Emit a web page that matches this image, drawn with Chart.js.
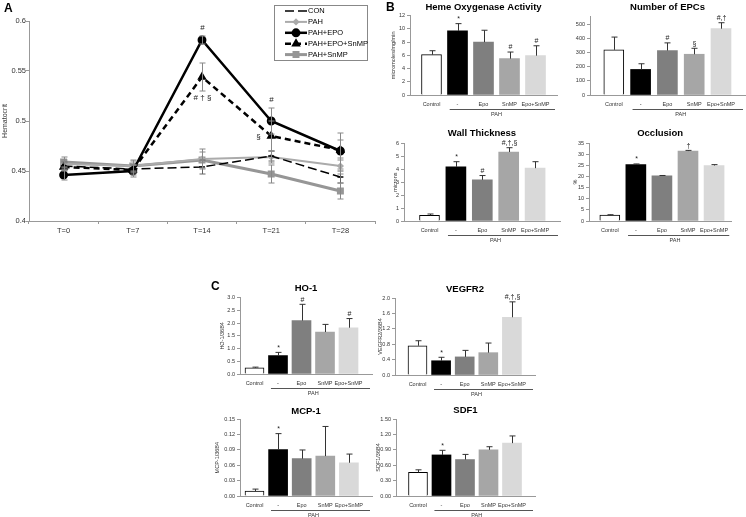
<!DOCTYPE html>
<html>
<head>
<meta charset="utf-8">
<script src="https://cdn.jsdelivr.net/npm/chart.js@4.4.0/dist/chart.umd.min.js"></script>
<style>
body { margin: 0; background: #fff; }
#fig { position: relative; width: 746px; height: 517px; overflow: hidden; font-family: "Liberation Sans", Arial, sans-serif; }
#fig canvas { position: absolute; }
.lbl { position: absolute; font-weight: bold; font-size: 12px; color: #000; }
</style>
</head>
<body>
<div id="fig">
  <canvas id="chartA"></canvas>
  <canvas id="heme"></canvas>
  <canvas id="epc"></canvas>
  <canvas id="wall"></canvas>
  <canvas id="occl"></canvas>
  <canvas id="ho1"></canvas>
  <canvas id="vegf"></canvas>
  <canvas id="mcp"></canvas>
  <canvas id="sdf"></canvas>
  <div class="lbl" style="left:4px;top:1px">A</div>
  <div class="lbl" style="left:386px;top:0px">B</div>
  <div class="lbl" style="left:211px;top:279px">C</div>
</div>
<script>
// ---- panel A: hematocrit over time
var timepoints = ['T=0', 'T=7', 'T=14', 'T=21', 'T=28'];
var con        = [0.455, 0.452, 0.454, 0.465, 0.444];
var conErr     = [0.004, 0.004, 0.007, 0.005, 0.006];
var pah        = [0.457, 0.455, 0.462, 0.464, 0.455];
var pahErr     = [0.004, 0.005, 0.010, 0.006, 0.008];
var pahEpo     = [0.446, 0.450, 0.581, 0.500, 0.470];
var pahEpoErr  = [0.005, 0.006, 0.004, 0.013, 0.018];
var pahEpoMarks = ['', '', '#', '#', ''];
var pahEpoSnmp    = [0.454, 0.451, 0.544, 0.485, 0.471];
var pahEpoSnmpErr = [0.004, 0.005, 0.014, 0.015, 0.010];
var pahEpoSnmpMarks = ['', '', '# \u2020 \u00a7', '\u00a7', ''];
var pahSnmp    = [0.459, 0.455, 0.461, 0.447, 0.430];
var pahSnmpErr = [0.005, 0.006, 0.008, 0.009, 0.008];

// ---- panels B and C: group bars
var groups = ['Control', '-', 'Epo', 'SnMP', 'Epo+SnMP'];
var groupLabel = 'PAH';

var hoActivity      = [6.1, 9.7, 8.0, 5.5, 5.95];
var hoActivityErr   = [0.6, 1.1, 1.8, 1.0, 1.5];
var hoActivityMarks = ['', '*', '', '#', '#'];

var epcCount      = [318, 180, 313, 287, 467];
var epcErr        = [90, 40, 54, 42, 42];
var epcMarks      = ['', '', '#', '\u00a7', '#,\u2020'];

var wallThick      = [0.44, 4.18, 3.18, 5.33, 4.08];
var wallErr        = [0.1, 0.4, 0.33, 0.33, 0.5];
var wallMarks      = ['', '*', '#', '#,\u2020,\u00a7', ''];

var occlusion      = [2.7, 25.4, 20.3, 31.5, 25.0];
var occlusionErr   = [0.15, 0.3, 0.2, 0.3, 0.4];
var occlusionMarks = ['', '*', '', '\u2020', ''];

var ho1      = [0.24, 0.72, 2.1, 1.65, 1.82];
var ho1Err   = [0.03, 0.13, 0.64, 0.3, 0.36];
var ho1Marks = ['', '*', '#', '', '#'];

var vegfr2      = [0.76, 0.37, 0.47, 0.58, 1.5];
var vegfr2Err   = [0.13, 0.09, 0.17, 0.25, 0.4];
var vegfr2Marks = ['', '*', '', '', '#,\u2020,\u00a7'];

var mcp1      = [0.0095, 0.091, 0.073, 0.078, 0.065];
var mcp1Err   = [0.004, 0.031, 0.017, 0.058, 0.017];
var mcp1Marks = ['', '*', '', '', ''];

var sdf1      = [0.46, 0.8, 0.71, 0.9, 1.03];
var sdf1Err   = [0.05, 0.09, 0.1, 0.06, 0.14];
var sdf1Marks = ['', '*', '', '', ''];

var FAM = '"Liberation Sans", Arial, sans-serif';
Chart.defaults.font.family = FAM;
Chart.defaults.color = '#333';

var barColors = ['#ffffff', '#000000', '#7f7f7f', '#a6a6a6', '#d9d9d9'];

// error bars + significance marks
var errorBars = {
  id: 'errorBars',
  afterDatasetsDraw: function(chart) {
    var ctx = chart.ctx, ys = chart.scales.y;
    chart.data.datasets.forEach(function(ds, di) {
      if (!ds.errors) return;
      var meta = chart.getDatasetMeta(di);
      ctx.save();
      ctx.strokeStyle = ds.errorColor || '#333';
      ctx.lineWidth = 1;
      meta.data.forEach(function(el, i) {
        var raw = ds.data[i];
        var v = (typeof raw === 'object') ? raw.y : raw;
        var e = ds.errors[i];
        var x = Math.round(el.x) + 0.5;
        var yTop = ys.getPixelForValue(v + e);
        var yBot = ds.errBoth ? ys.getPixelForValue(v - e) : ys.getPixelForValue(v);
        var cap = ds.capWidth || 3;
        ctx.beginPath();
        ctx.moveTo(x, yTop); ctx.lineTo(x, yBot);
        ctx.moveTo(x - cap, yTop); ctx.lineTo(x + cap, yTop);
        if (ds.errBoth) { ctx.moveTo(x - cap, yBot); ctx.lineTo(x + cap, yBot); }
        ctx.stroke();
        var m = ds.marks && ds.marks[i];
        if (m) {
          var pos = (ds.markPos && ds.markPos[i]) || 'above';
          ctx.fillStyle = '#222';
          ctx.font = ds.markFont || ('7px ' + FAM);
          ctx.textAlign = 'center';
          if (pos === 'above') {
            ctx.textBaseline = 'bottom';
            ctx.fillText(m, x, yTop - (ds.markGap || 1));
          } else if (pos === 'below') {
            ctx.textBaseline = 'top';
            ctx.fillText(m, x, yBot + 3);
          } else {
            ctx.textBaseline = 'middle';
            ctx.fillText(m, x - 13, ys.getPixelForValue(v) + 1);
          }
        }
      });
      ctx.restore();
    });
  }
};

// PAH bracket under the four treated groups
var pahBracket = {
  id: 'pahBracket',
  afterDraw: function(chart) {
    var xs = chart.scales.x, ctx = chart.ctx, b = chart.chartArea.bottom;
    var x1 = xs.getPixelForValue(0.7), x2 = chart.chartArea.right - 2;
    var yl = Math.round(b + 13.5) + 0.5;
    ctx.save();
    ctx.strokeStyle = '#555'; ctx.lineWidth = 1;
    ctx.beginPath(); ctx.moveTo(x1, yl); ctx.lineTo(x2, yl); ctx.stroke();
    ctx.fillStyle = '#333'; ctx.font = '5.5px ' + FAM;
    ctx.textAlign = 'center'; ctx.textBaseline = 'middle';
    ctx.fillText(groupLabel, xs.getPixelForValue(2.5), b + 19);
    ctx.restore();
  }
};

function stepFilter(step) {
  return function(s) {
    s.ticks = s.ticks.filter(function(t) {
      var r = t.value / step;
      return Math.abs(r - Math.round(r)) < 1e-6;
    });
  };
}

function barPanel(id, vals, errs, marks, g) {
  var W = 36, H = 30;
  var lh = g.ts * 1.2;
  var cTop = Math.floor(g.ty - lh / 2 - 2);
  var cLeft = Math.round(g.ax) - W;
  var cv = document.getElementById(id);
  var cw = Math.ceil(g.ar - cLeft) + 3;
  cv.width = cw;
  cv.height = Math.round(g.bottom + H - cTop);
  cv.style.left = cLeft + 'px';
  cv.style.top = cTop + 'px';
  var xmin = (Math.round(g.ax) - g.c0) / g.sp, xmax = (g.ar - g.c0) / g.sp;
  new Chart(cv, {
    type: 'bar',
    data: {
      datasets: [{
        data: vals.map(function(v, i) { return {x: i, y: v}; }),
        errors: errs,
        marks: marks,
        markFont: '7px ' + FAM,
        markGap: 1,
        capWidth: 3,
        backgroundColor: barColors,
        borderColor: '#000',
        borderWidth: [1, 0, 0, 0, 0],
        barThickness: g.bw
      }]
    },
    options: {
      responsive: false,
      animation: false,
      layout: { padding: { right: cw - (g.ar - cLeft) } },
      plugins: {
        legend: { display: false },
        tooltip: { enabled: false },
        title: {
          display: true, text: g.title, fullSize: false, color: '#000',
          font: { size: g.ts, weight: 'bold', lineHeight: 1.2 },
          padding: { top: g.ty - lh / 2 - cTop, bottom: g.top - g.ty - lh / 2 }
        }
      },
      scales: {
        x: {
          type: 'linear', min: xmin, max: xmax, offset: false,
          afterBuildTicks: function(s) { s.ticks = groups.map(function(_, i) { return {value: i}; }); },
          afterFit: function(s) { s.height = H; },
          ticks: {
            callback: function(v) { return groups[v]; },
            font: { size: 5.5 }, color: '#333', padding: 6.5, maxRotation: 0, autoSkip: false
          },
          grid: { display: true, drawOnChartArea: false, drawTicks: false },
          border: { color: '#999' }
        },
        y: {
          min: 0, max: g.max,
          afterFit: function(s) { s.width = W; },
          afterBuildTicks: stepFilter(g.step),
          ticks: {
            stepSize: g.step,
            callback: function(v) { return v.toFixed(g.dec); },
            font: { size: 5.5 }, color: '#333', padding: 2
          },
          grid: { drawOnChartArea: false, tickLength: 3, color: '#999' },
          border: { color: '#999' },
          title: {
            display: !!g.yt, text: g.yt || '', color: '#333',
            font: { size: 5.5, lineHeight: 1.2 },
            padding: { top: (g.ytx || 0) - cLeft - 3.3, bottom: 0 }
          }
        }
      }
    },
    plugins: [errorBars, pahBracket]
  });
}

barPanel('heme', hoActivity, hoActivityErr, hoActivityMarks,
  { title: 'Heme Oxygenase Activity', ts: 9.5, ty: 7.5, ax: 410, ar: 557, top: 15.7, bottom: 94.7,
    max: 12, step: 2, dec: 0, c0: 431.5, sp: 26, bw: 20, yt: 'micromoles/mg/min', ytx: 393 });
barPanel('epc', epcCount, epcErr, epcMarks,
  { title: 'Number of EPCs', ts: 9.5, ty: 7.3, ax: 590, ar: 745, top: 16.9, bottom: 95.3,
    max: 550, step: 100, dec: 0, c0: 613.8, sp: 26.8, bw: 20 });
barPanel('wall', wallThick, wallErr, wallMarks,
  { title: 'Wall Thickness', ts: 9.5, ty: 133, ax: 404, ar: 560, top: 143.3, bottom: 221.3,
    max: 6, step: 1, dec: 0, c0: 429.5, sp: 26.4, bw: 20, yt: 'microns', ytx: 395 });
barPanel('occl', occlusion, occlusionErr, occlusionMarks,
  { title: 'Occlusion', ts: 9.5, ty: 133.3, ax: 589, ar: 732, top: 143.3, bottom: 221.3,
    max: 35, step: 5, dec: 0, c0: 609.9, sp: 26.2, bw: 20, yt: '%', ytx: 575 });
barPanel('ho1', ho1, ho1Err, ho1Marks,
  { title: 'HO-1', ts: 9.5, ty: 288.7, ax: 240, ar: 372, top: 297.7, bottom: 373.7,
    max: 3, step: 0.5, dec: 1, c0: 254.5, sp: 23.5, bw: 19, yt: 'HO-1/36B4', ytx: 222 });
barPanel('vegf', vegfr2, vegfr2Err, vegfr2Marks,
  { title: 'VEGFR2', ts: 9.5, ty: 289, ax: 395, ar: 535, top: 298, bottom: 374.5,
    max: 2, step: 0.4, dec: 1, c0: 417.5, sp: 23.6, bw: 19, yt: 'VEGFR2/36B4', ytx: 380 });
barPanel('mcp', mcp1, mcp1Err, mcp1Marks,
  { title: 'MCP-1', ts: 9.5, ty: 411, ax: 240, ar: 372, top: 419.3, bottom: 496,
    max: 0.15, step: 0.03, dec: 2, c0: 254.5, sp: 23.6, bw: 19, yt: 'MCP-1/36B4', ytx: 217 });
barPanel('sdf', sdf1, sdf1Err, sdf1Marks,
  { title: 'SDF1', ts: 9.5, ty: 410.5, ax: 396, ar: 535, top: 419, bottom: 496,
    max: 1.5, step: 0.3, dec: 2, c0: 418, sp: 23.5, bw: 19, yt: 'SDF1/36B4', ytx: 378 });

// ---- panel A
function drawMarker(ctx, ds, x, y) {
  if (!ds.pointStyle || ds.pointStyle === 'line') return;
  ctx.fillStyle = ds.pointBackgroundColor || ds.borderColor;
  ctx.strokeStyle = ds.borderColor;
  Chart.helpers.drawPoint(ctx, { pointStyle: ds.pointStyle, radius: ds.pointRadius, rotation: 0, borderWidth: 1 }, x, y);
}

var legendBox = {
  id: 'legendBox',
  afterDraw: function(chart) {
    var ctx = chart.ctx;
    ctx.save();
    ctx.fillStyle = '#fff'; ctx.strokeStyle = '#888'; ctx.lineWidth = 1;
    ctx.fillRect(274.5, 5.5, 93, 55);
    ctx.strokeRect(274.5, 5.5, 93, 55);
    chart.data.datasets.forEach(function(ds, i) {
      var y = 11 + i * 10.9;
      ctx.strokeStyle = ds.borderColor; ctx.lineWidth = ds.borderWidth;
      ctx.setLineDash(ds.borderDash || []);
      ctx.beginPath(); ctx.moveTo(285, y); ctx.lineTo(307, y); ctx.stroke();
      ctx.setLineDash([]);
      drawMarker(ctx, ds, 296, y);
      ctx.fillStyle = '#000'; ctx.font = '7.5px ' + FAM;
      ctx.textAlign = 'left'; ctx.textBaseline = 'middle';
      ctx.fillText(ds.label, 308, y);
    });
    ctx.restore();
  }
};

var cA = document.getElementById('chartA');
cA.width = 382; cA.height = 262;
cA.style.left = '0px'; cA.style.top = '0px';
new Chart(cA, {
  type: 'line',
  data: {
    labels: timepoints,
    datasets: [
      { label: 'CON', data: con, errors: conErr, errBoth: true, errorColor: '#666',
        borderColor: '#000', borderWidth: 1.5, borderDash: [9, 4],
        pointStyle: 'line', pointRadius: 3, pointBorderWidth: 1.5, order: 3 },
      { label: 'PAH', data: pah, errors: pahErr, errBoth: true, errorColor: '#888',
        borderColor: '#ababab', borderWidth: 2, pointStyle: 'rectRot', pointRadius: 2.2,
        pointBackgroundColor: '#ababab', order: 4 },
      { label: 'PAH+EPO', data: pahEpo, errors: pahEpoErr, errBoth: true, errorColor: '#888',
        marks: pahEpoMarks, markFont: '8px ' + FAM, markGap: 4,
        borderColor: '#000', borderWidth: 2.5, pointStyle: 'circle', pointRadius: 3.2,
        pointBackgroundColor: '#000', order: 1 },
      { label: 'PAH+EPO+SnMP', data: pahEpoSnmp, errors: pahEpoSnmpErr, errBoth: true, errorColor: '#888',
        marks: pahEpoSnmpMarks, markPos: ['above', 'above', 'below', 'left', 'above'], markFont: '8px ' + FAM,
        borderColor: '#000', borderWidth: 2.5, borderDash: [6, 4], pointStyle: 'triangle', pointRadius: 3,
        pointBackgroundColor: '#000', order: 2 },
      { label: 'PAH+SnMP', data: pahSnmp, errors: pahSnmpErr, errBoth: true, errorColor: '#888',
        borderColor: '#969696', borderWidth: 3, pointStyle: 'rect', pointRadius: 2.8,
        pointBackgroundColor: '#969696', order: 5 }
    ]
  },
  options: {
    responsive: false,
    animation: false,
    layout: { padding: { top: 21, right: 3 } },
    elements: { line: { tension: 0 } },
    plugins: { legend: { display: false }, tooltip: { enabled: false } },
    scales: {
      x: {
        offset: true,
        afterFit: function(s) { s.height = 41; },
        ticks: { font: { size: 7.5 }, color: '#333', padding: 2.5 },
        grid: { offset: true, drawOnChartArea: false, tickLength: 3, color: '#999' },
        border: { color: '#999' }
      },
      y: {
        min: 0.4, max: 0.6,
        afterFit: function(s) { s.width = 29; },
        ticks: { stepSize: 0.05, font: { size: 7.5 }, color: '#333', padding: 0,
          callback: function(v) { return String(+v.toFixed(2)); } },
        grid: { drawOnChartArea: false, tickLength: 3, color: '#999' },
        border: { color: '#999' },
        title: { display: true, text: 'Hematocrit', color: '#333',
          font: { size: 7, lineHeight: 1.2 }, padding: { top: 0.8, bottom: 0 } }
      }
    }
  },
  plugins: [errorBars, legendBox]
});
</script>
</body>
</html>
